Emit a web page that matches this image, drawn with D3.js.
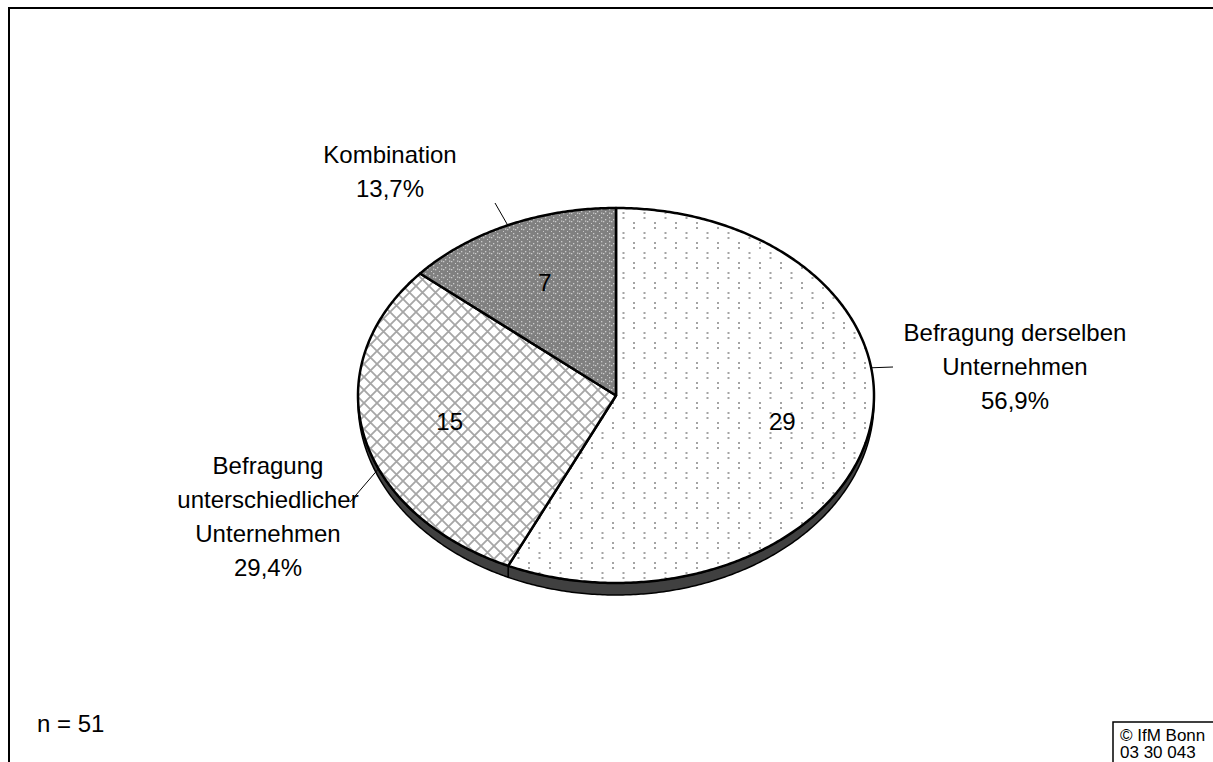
<!DOCTYPE html>
<meta charset="utf-8">
<head>
  <title>Befragung</title>
</head>
<body>
<style>
  html, body { margin: 0; padding: 0; background: #fff; }
  svg text { font-family: "Liberation Sans", Arial, sans-serif; fill: #000; }
  .slice { stroke: #000; stroke-width: 2.5px; stroke-linejoin: round; }
  .side { fill: #404040; stroke: #000; stroke-width: 1.5px; }
  .leader { stroke: #000; stroke-width: 1px; }
</style>
<div id="chart"></div>
<script src="https://cdn.jsdelivr.net/npm/d3@7/dist/d3.min.js"></script>
<script>

// data
var categories = ["Befragung derselben Unternehmen", "Befragung unterschiedlicher Unternehmen", "Kombination"];
var counts = [29, 15, 7];
var percents = ["56,9%", "29,4%", "13,7%"];
var labelLines = [
  ["Befragung derselben", "Unternehmen", "56,9%"],
  ["Befragung", "unterschiedlicher", "Unternehmen", "29,4%"],
  ["Kombination", "13,7%"]
];
var sampleNote = "n = 51";
var sourceNote = ["\u00a9 IfM Bonn", "03 30 043"];

(function() {

var width = 1213, height = 762;
var cx = 616, cy = 395.5, rx = 258, ry = 187.5, depth = 12;

// outer label layout: leader angle (deg), leader end, text block centre x and first baseline
var outerLayout = [
  {angle: 81.5, ex: 893, ey: 367, tx: 1015, ty: 341},
  {angle: 247, ex: 350, ey: 502, tx: 268, ty: 474},
  {angle: 335.2, ex: 495, ey: 203, tx: 390, ty: 163}
];

var svg = d3.select("#chart").append("svg")
    .attr("width", width)
    .attr("height", height);

var defs = svg.append("defs");

// pattern 1: light dotted pairs
var p1 = defs.append("pattern")
    .attr("id", "pat-dots")
    .attr("patternUnits", "userSpaceOnUse")
    .attr("width", 21).attr("height", 20);
p1.append("rect").attr("width", 21).attr("height", 20).attr("fill", "#fff");
[[3, 2], [3, 7], [13.5, 12], [13.5, 17]].forEach(function(p) {
  p1.append("rect").attr("x", p[0]).attr("y", p[1]).attr("width", 2).attr("height", 2).attr("fill", "#a4a4a4");
});

// pattern 2: diagonal cross hatch
var p2 = defs.append("pattern")
    .attr("id", "pat-hatch")
    .attr("patternUnits", "userSpaceOnUse")
    .attr("width", 13).attr("height", 13);
p2.append("rect").attr("width", 13).attr("height", 13).attr("fill", "#fff");
p2.append("path")
    .attr("d", "M-1,-1L14,14M14,-1L-1,14")
    .attr("stroke", "#a6a6a6")
    .attr("stroke-width", 1.8);

// pattern 3: dark grey with light speckles
var p3 = defs.append("pattern")
    .attr("id", "pat-dark")
    .attr("patternUnits", "userSpaceOnUse")
    .attr("width", 8).attr("height", 8);
p3.append("rect").attr("width", 8).attr("height", 8).attr("fill", "#808080");
[[1, 1], [5, 3], [3, 5], [7, 7], [1, 4.5]].forEach(function(p) {
  p3.append("rect").attr("x", p[0]).attr("y", p[1]).attr("width", 1.3).attr("height", 1.3).attr("fill", "#cccccc");
});

var fills = ["url(#pat-dots)", "url(#pat-hatch)", "url(#pat-dark)"];

// frame
svg.append("rect")
    .attr("x", 9).attr("y", 8)
    .attr("width", width + 20).attr("height", height + 20)
    .attr("fill", "none")
    .attr("stroke", "#000")
    .attr("stroke-width", 2);

var pie = d3.pie().sort(null).value(function(d) { return d; });
var arcs = pie(counts);

function pt(a, ocy, ory) {
  return [cx + rx * Math.sin(a), ocy - ory * Math.cos(a)];
}

function samples(a0, a1) {
  var n = Math.max(2, Math.ceil(Math.abs(a1 - a0) / 0.01));
  return d3.range(n + 1).map(function(i) { return a0 + (a1 - a0) * i / n; });
}

var line = d3.line();

// side (3D rim), only the front half is visible
var sideG = svg.append("g");
arcs.forEach(function(d) {
  var a0 = Math.max(d.startAngle, Math.PI / 2),
      a1 = Math.min(d.endAngle, 3 * Math.PI / 2);
  if (a1 <= a0) return;
  var top = samples(a0, a1).map(function(a) { return pt(a, cy, ry); });
  var bot = samples(a1, a0).map(function(a) { return pt(a, cy + depth / 2, ry + depth / 2); });
  sideG.append("path")
      .attr("class", "side")
      .attr("d", line(top.concat(bot)) + "Z");
});

// top face slices
svg.append("g").selectAll("path")
    .data(arcs)
  .enter().append("path")
    .attr("class", "slice")
    .attr("fill", function(d, i) { return fills[i]; })
    .attr("d", function(d) {
      var pts = [[cx, cy]].concat(samples(d.startAngle, d.endAngle).map(function(a) { return pt(a, cy, ry); }));
      return line(pts) + "Z";
    });

// values inside slices
svg.append("g").selectAll("text")
    .data(arcs)
  .enter().append("text")
    .attr("x", function(d) { var m = (d.startAngle + d.endAngle) / 2; return cx + 0.66 * rx * Math.sin(m); })
    .attr("y", function(d) { var m = (d.startAngle + d.endAngle) / 2; return cy - 0.66 * ry * Math.cos(m); })
    .attr("dy", "0.35em")
    .attr("text-anchor", "middle")
    .style("font-size", "24px")
    .text(function(d) { return d.data; });

// outer labels with leader lines
labelLines.forEach(function(lines, i) {
  var L = outerLayout[i];
  var s = pt(L.angle * Math.PI / 180, cy, ry);
  svg.append("line")
      .attr("class", "leader")
      .attr("x1", s[0]).attr("y1", s[1])
      .attr("x2", L.ex).attr("y2", L.ey);
  var t = svg.append("text")
      .attr("text-anchor", "middle")
      .style("font-size", "24px");
  lines.forEach(function(s, j) {
    t.append("tspan")
        .attr("x", L.tx)
        .attr("y", L.ty + j * 34)
        .text(s);
  });
});

// n note
svg.append("text")
    .attr("x", 37).attr("y", 732)
    .style("font-size", "24px")
    .text(sampleNote);

// source box
svg.append("rect")
    .attr("x", 1113).attr("y", 722)
    .attr("width", 120).attr("height", 60)
    .attr("fill", "#fff")
    .attr("stroke", "#000")
    .attr("stroke-width", 1.5);
var src = svg.append("text").style("font-size", "17px");
sourceNote.forEach(function(s, j) {
  src.append("tspan")
      .attr("x", 1120)
      .attr("y", 741 + j * 17)
      .text(s);
});

})();

</script>
</body>
